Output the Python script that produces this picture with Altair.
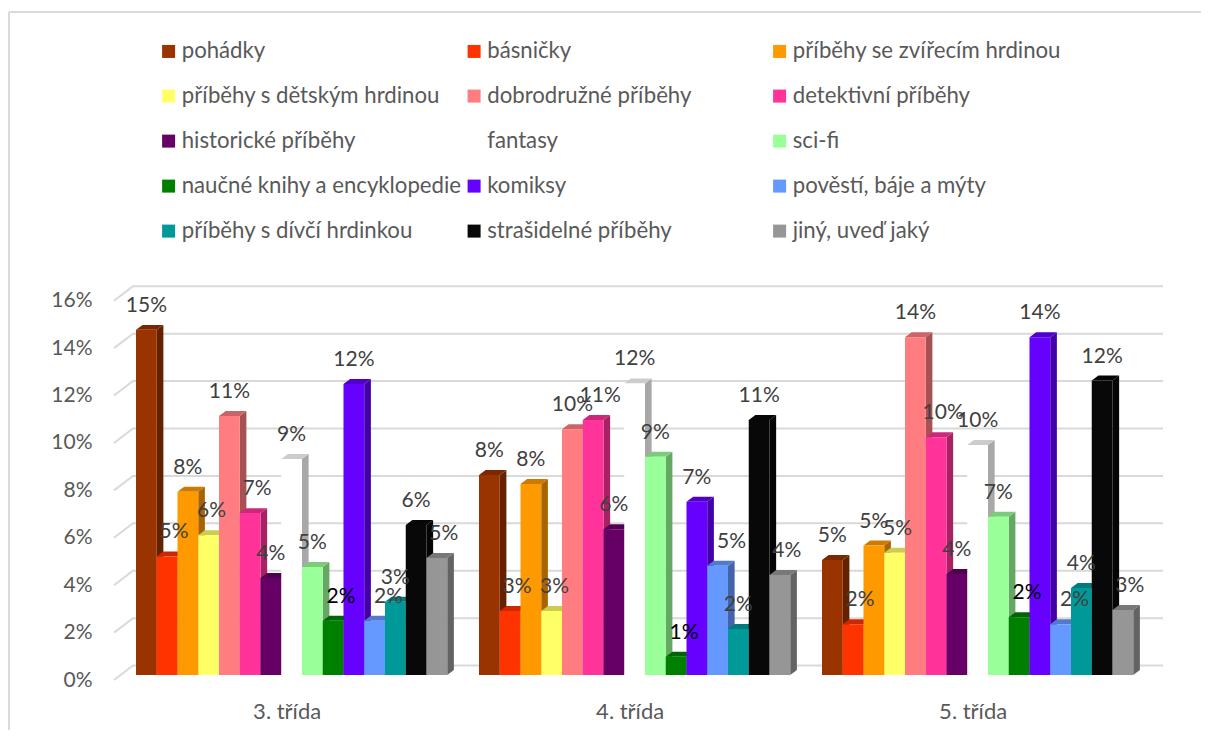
import altair as alt
import pandas as pd

series = ["pohádky", "básničky", "příběhy se zvířecím hrdinou", "příběhy s dětským hrdinou",
          "dobrodružné příběhy", "detektivní příběhy", "historické příběhy", "fantasy", "sci-fi",
          "naučné knihy a encyklopedie", "komiksy", "pověstí, báje a mýty",
          "příběhy s dívčí hrdinkou", "strašidelné příběhy", "jiný, uveď jaký"]
colors = ["#993300", "#FF3300", "#FF9900", "#FFFF66", "#FF7C80", "#FF3399", "#660066", "#FFFFFF",
          "#99FF99", "#008000", "#6600FF", "#6699FF", "#009999", "#080808", "#969696"]
groups = ["3. třída", "4. třída", "5. třída"]
values_3 = [14.56, 5.0, 7.73, 5.9, 10.93, 6.83, 4.09, 9.11, 4.56, 2.29, 12.28, 2.29, 3.09, 6.33, 4.94]
values_4 = [8.44, 2.7, 8.06, 2.7, 10.37, 10.76, 6.15, 12.3, 9.21, 0.77, 7.31, 4.61, 1.94, 10.76, 4.22]
values_5 = [4.85, 2.14, 5.46, 5.16, 14.25, 10.03, 4.26, 9.7, 6.68, 2.44, 14.25, 2.14, 3.67, 12.42, 2.74]
label_nudge = [0, 7, 0, 3, 0, 7, 0, 0, 0, 8, 0, 14, 0, 0, 7]
y_ticks = [0, 2, 4, 6, 8, 10, 12, 14, 16]

UNIT = 20.75        # px per bar
GROUP_STEP = 16.53  # bars
DX, DY = 0.32, 0.21 # 3D depth in data units
X0, X1 = -1.06, 49.494
Y0, Y1 = -0.21, 16.41
GRID_DX, GRID_DY = -0.145, 0.40


def shade(hex_color, f):
    r, g, b = (int(hex_color[i:i + 2], 16) for i in (1, 3, 5))
    return "#%02x%02x%02x" % (int(r * f), int(g * f), int(b * f))


faces, labels = [], []
for gi, vals in enumerate([values_3, values_4, values_5]):
    for si, v in enumerate(vals):
        L = gi * GROUP_STEP + si
        R = L + 1
        c = colors[si]
        key = f"{gi:02d}-{si:02d}"
        for x, a, b in [(R, 0, v), (R + DX, DY, v + DY)]:
            faces.append(dict(f=key + "-a", x=x, y=a, y2=b, c=shade(c, 0.66)))
        for x, a, b in [(L, v, v), (L + DX, v, v + DY), (R, v, v + DY), (R + DX, v + DY, v + DY)]:
            faces.append(dict(f=key + "-b", x=x, y=a, y2=b, c=shade(c, 0.8)))
        for x in (L, R):
            faces.append(dict(f=key + "-c", x=x, y=0, y2=v, c=c))
        labels.append(dict(x=L + 0.5 + label_nudge[si] / UNIT, y=v, t=f"{round(v)}%", s=si))

faces = pd.DataFrame(faces)
labels = pd.DataFrame(labels)
grid = pd.DataFrame([dict(v=t, x=x, y=t + d) for t in y_ticks
                     for x, d in [(X0, Y0), (GRID_DX, GRID_DY), (X1, GRID_DY)]])
legend_df = pd.DataFrame({"s": series, "x": 0.5, "y": 0.5})

xs = alt.Scale(domain=[X0, X1], nice=False, zero=False)
ys = alt.Scale(domain=[Y0, Y1], nice=False, zero=False)
FONT = "Lato"
centers = [gi * GROUP_STEP + 7.5 for gi in range(3)]
x_axis = alt.Axis(values=centers, title=None, grid=False, domain=False, ticks=False,
                  labelExpr=f"{groups!r}[round((datum.value-7.5)/{GROUP_STEP})]",
                  labelFont=FONT, labelFontSize=22, labelColor="#595959", labelPadding=21,
                  labelOffset=-5, labelOverlap=False)
y_axis = alt.Axis(values=y_ticks, title=None, grid=False, domain=False, ticks=False,
                  labelExpr="datum.value+'%'", labelFont=FONT, labelFontSize=21,
                  labelColor="#595959", labelPadding=22, labelOffset=5, labelOverlap=False)


def X(f="x:Q"):
    return alt.X(f, scale=xs, axis=x_axis)


def Y(f="y:Q"):
    return alt.Y(f, scale=ys, axis=y_axis, stack=None)


legend = alt.Legend(title=None, orient="none", legendX=43.5, legendY=-246, columns=3, direction="horizontal",
                    gridAlign="all", symbolType="square", symbolSize=169, symbolStrokeWidth=0, symbolOpacity=1,
                    labelFont=FONT, labelFontSize=22.2, labelColor="#595959", labelLimit=500,
                    labelOffset=2, rowPadding=22, columnPadding=0.5)

marker = alt.Chart(legend_df).mark_square(size=1, opacity=1).encode(
    x=X(), y=Y(),
    color=alt.Color("s:N", scale=alt.Scale(domain=series, range=colors), sort=None, legend=legend))
grid_l = alt.Chart(grid).mark_line(color="#d9d9d9", strokeWidth=2).encode(
    x=X(), y=Y(), detail="v:N", order=alt.Order("x:Q"))
bars = alt.Chart(faces).mark_area(interpolate="linear").encode(
    x=X(), y=Y(), y2="y2:Q", detail="f:N", fill=alt.Fill("c:N", scale=None))
txt_grey = alt.Chart(labels[labels.s != 9]).mark_text(
    dy=-24, font=FONT, fontSize=21, color="#404040", baseline="middle", align="center"
).encode(x=X(), y=Y(), text="t:N")
txt_dark = alt.Chart(labels[labels.s == 9]).mark_text(
    dy=-24, font=FONT, fontSize=21, color="#000000", baseline="middle", align="center"
).encode(x=X(), y=Y(), text="t:N")
one = pd.DataFrame({"a": [0]})
frame_top = alt.Chart(one).mark_rule(color="#d9d9d9", strokeWidth=2).encode(
    x=alt.value(-105), x2=alt.value(1095), y=alt.value(-274))
frame_left = alt.Chart(one).mark_rule(color="#d9d9d9", strokeWidth=2).encode(
    x=alt.value(-105), y=alt.value(-274), y2=alt.value(444))

chart = alt.layer(frame_top, frame_left, marker, grid_l, bars, txt_grey, txt_dark).properties(
    width=1049, height=394, autosize=alt.AutoSizeParams(type="none"),
    padding={"left": 106, "top": 278, "right": 38, "bottom": 50}, background="white"
).configure_view(stroke=None)

chart.save("out.html", embed_options={"renderer": "svg", "actions": False})
